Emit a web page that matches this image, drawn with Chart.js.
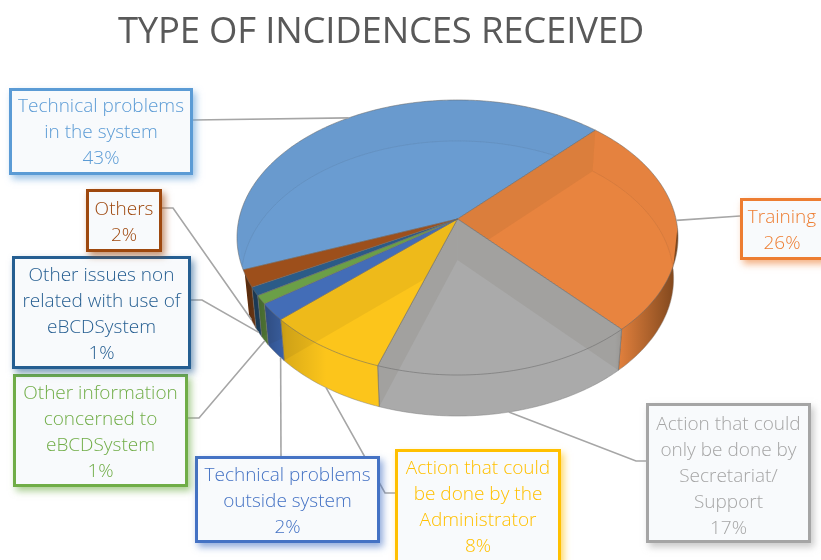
<!DOCTYPE html>
<html>
<head>
<meta charset="utf-8">
<script src="https://cdn.jsdelivr.net/npm/chart.js@4/dist/chart.umd.min.js"></script>
<style>
  html, body { margin: 0; padding: 0; background: #fff; overflow: hidden; }
  #stage { position: relative; width: 821px; height: 560px; overflow: hidden; font-family: "Open Sans", sans-serif; }
  #pie { position: absolute; left: 0; top: 0; }
  #title { position: absolute; left: 0; width: 762px; top: 5px; text-align: center; font-size: 36.5px; line-height: 48px; color: #595959; letter-spacing: -0.2px; }
  .callout { position: absolute; box-sizing: border-box; border: 3px solid; text-align: center; font-size: 19px; font-weight: 300; line-height: 26px; display: flex; flex-direction: column; justify-content: center; background: #f8fafc; }
</style>
</head>
<body>
<div id="stage">
  <canvas id="pie" width="821" height="560"></canvas>
  <div id="title">TYPE OF INCIDENCES RECEIVED</div>
</div>
<script>
const categories = [
  'Technical problems in the system',
  'Training',
  'Action that could only be done by Secretariat/ Support',
  'Action that could be done by the Administrator',
  'Technical problems outside system',
  'Other information concerned to eBCDSystem',
  'Other issues non related with use of eBCDSystem',
  'Others'
];
const percents = [43, 26, 17, 8, 2, 1, 1, 2];
const labelLines = [
  ['Technical problems', 'in the system'],
  ['Training'],
  ['Action that could', 'only be done by', 'Secretariat/', 'Support'],
  ['Action that could', 'be done by the', 'Administrator'],
  ['Technical problems', 'outside system'],
  ['Other information', 'concerned to', 'eBCDSystem'],
  ['Other issues non', 'related with use of', 'eBCDSystem'],
  ['Others']
];
const sliceColors = ['#6a9cd1', '#e8843f', '#aaaaaa', '#fcc51b', '#4472c4', '#6fa84b', '#2a5e90', '#a5521c'];
const edgeColors = ['#5b9bd5', '#ed7d31', '#a5a5a5', '#ffc000', '#4472c4', '#70ad47', '#255e91', '#9e480e'];

// left, top, width, height of every label box
const boxes = [
  [9, 88, 184, 87],
  [740, 198, 84, 62],
  [646, 403, 165, 140],
  [395, 449, 166, 114],
  [195, 456, 185, 87],
  [13, 374, 175, 113],
  [12, 256, 179, 113],
  [86, 189, 76, 63]
];
const textShift = [-1, 0, 2, 0, 0, 0, 0, 0];
// where along its slice a leader starts, then the rest of the leader up to the box
const leaderAt = [0.5, 0.5, 0.5, 0.5, 0.2, 0.5, 0.5, 0.5];
const leaderPath = [
  [[193, 120]],
  [[740, 216]],
  [[636, 461], [646, 461]],
  [[385, 493], [395, 493]],
  [[281, 456]],
  [[199, 418], [188, 418]],
  [[202, 300], [191, 300]],
  [[173, 208], [162, 208]]
];

const squash = 0.618;
const perspective = 0.1345;
const depth = 41;
const lowerWidth = 0.98;

function rimPoint(arc, angle, drop) {
  const w = 1 - perspective * Math.sin(angle);
  const dx = arc.outerRadius * Math.cos(angle) / w;
  return {
    x: arc.x + (drop ? dx * lowerWidth : dx),
    y: arc.y + arc.outerRadius * squash * Math.sin(angle) / w + (drop || 0)
  };
}

function rimAngles(from, to) {
  const list = [];
  const steps = Math.max(2, Math.ceil((to - from) / 0.015));
  for (let i = 0; i <= steps; i++) list.push(from + (to - from) * i / steps);
  return list;
}

// the big slice hides its own side on the left, so the side starts lower there
function onFront(a) {
  return Math.sin(a) > (Math.cos(a) < 0 ? 0.38 : 0.05);
}

function trace(ctx, pts) {
  pts.forEach((p, i) => i ? ctx.lineTo(p.x, p.y) : ctx.moveTo(p.x, p.y));
}

function sectorPath(ctx, arc, drop) {
  const pts = rimAngles(arc.startAngle, arc.endAngle).map(a => rimPoint(arc, a, drop));
  ctx.moveTo(arc.x, arc.y + drop);
  pts.forEach(p => ctx.lineTo(p.x, p.y));
  ctx.closePath();
}

function stripPath(ctx, arc, angles) {
  const top = angles.map(a => rimPoint(arc, a, 0));
  const bottom = angles.map(a => rimPoint(arc, a, depth)).reverse();
  trace(ctx, top.concat(bottom));
  ctx.closePath();
}

function wallPath(ctx, arc, angle) {
  const rim = rimPoint(arc, angle, 0);
  const low = rimPoint(arc, angle, depth);
  ctx.moveTo(arc.x, arc.y);
  ctx.lineTo(rim.x, rim.y);
  ctx.lineTo(low.x, low.y);
  ctx.lineTo(arc.x, arc.y + depth);
  ctx.closePath();
}

const pie3d = {
  id: 'pie3d',
  beforeDatasetsDraw(chart) {
    const ctx = chart.ctx;
    const arcs = chart.getDatasetMeta(0).data;
    const left = arcs[0].x - arcs[0].outerRadius;
    const right = arcs[0].x + arcs[0].outerRadius;
    const sideShade = ctx.createLinearGradient(left, 0, right, 0);
    sideShade.addColorStop(0, 'rgba(0,0,0,0.5)');
    sideShade.addColorStop(0.11, 'rgba(0,0,0,0.12)');
    sideShade.addColorStop(0.2, 'rgba(0,0,0,0)');
    sideShade.addColorStop(0.86, 'rgba(40,20,0,0)');
    sideShade.addColorStop(1, 'rgba(40,20,0,0.55)');

    arcs.forEach(arc => {
      const all = rimAngles(arc.startAngle, arc.endAngle);
      const front = all.filter(onFront);
      ctx.save();
      ctx.beginPath();
      sectorPath(ctx, arc, 0);
      if (front.length > 1) stripPath(ctx, arc, front);
      ctx.clip('nonzero');

      ctx.fillStyle = arc.options.backgroundColor;
      ctx.fillRect(0, 0, chart.width, chart.height);

      // back of the curved side, seen through the top
      const back = all.filter(a => Math.sin(a) <= 0.05);
      if (back.length > 1) {
        ctx.beginPath();
        stripPath(ctx, arc, back);
        ctx.fillStyle = 'rgba(60,50,40,0.015)';
        ctx.fill();
        ctx.beginPath();
        trace(ctx, back.map(a => rimPoint(arc, a, depth)));
        ctx.strokeStyle = 'rgba(70,70,70,0.09)';
        ctx.lineWidth = 1;
        ctx.stroke();
      }
      // radial walls, seen through the top
      [arc.startAngle, arc.endAngle].forEach(a => {
        ctx.beginPath();
        wallPath(ctx, arc, a);
        ctx.fillStyle = 'rgba(70,55,30,0.075)';
        ctx.fill();
      });
      if (front.length > 1) {
        ctx.beginPath();
        stripPath(ctx, arc, front);
        ctx.fillStyle = sideShade;
        ctx.fill();
      }
      ctx.restore();

      ctx.strokeStyle = 'rgba(105,105,105,0.55)';
      ctx.lineWidth = 1;
      ctx.beginPath();
      sectorPath(ctx, arc, 0);
      ctx.stroke();
      [arc.startAngle, arc.endAngle].forEach(a => {
        if (onFront(a)) {
          const rim = rimPoint(arc, a, 0);
          const low = rimPoint(arc, a, depth);
          ctx.beginPath();
          ctx.moveTo(rim.x, rim.y);
          ctx.lineTo(low.x, low.y);
          ctx.stroke();
        }
      });
      if (front.length > 1) {
        ctx.beginPath();
        trace(ctx, front.map(a => rimPoint(arc, a, depth)));
        ctx.strokeStyle = 'rgba(130,130,130,0.5)';
        ctx.stroke();
      }
    });
    return false;
  },
  // returning false above also skips afterDatasetsDraw, so the leaders go here
  afterDraw(chart) {
    const ctx = chart.ctx;
    const arcs = chart.getDatasetMeta(0).data;
    ctx.save();
    ctx.strokeStyle = '#a6a6a6';
    ctx.lineWidth = 1.6;
    arcs.forEach((arc, i) => {
      const angle = arc.startAngle + (arc.endAngle - arc.startAngle) * leaderAt[i];
      const start = rimPoint(arc, angle, Math.sin(angle) > 0.05 ? depth : 0);
      ctx.beginPath();
      ctx.moveTo(start.x, start.y);
      leaderPath[i].forEach(p => ctx.lineTo(p[0], p[1]));
      ctx.stroke();
    });
    ctx.restore();
  }
};

new Chart(document.getElementById('pie'), {
  type: 'pie',
  data: {
    labels: categories,
    datasets: [{ data: percents, backgroundColor: sliceColors, borderWidth: 0 }]
  },
  options: {
    responsive: false,
    animation: false,
    rotation: -111,
    layout: { padding: { left: 239, right: 145, top: 0.5, bottom: 122.5 } },
    plugins: { legend: { display: false }, title: { display: false }, tooltip: { enabled: false } }
  },
  plugins: [pie3d]
});

const stage = document.getElementById('stage');
categories.forEach((name, i) => {
  const box = document.createElement('div');
  box.className = 'callout';
  const [x, y, w, h] = boxes[i];
  box.style.left = x + 'px';
  box.style.top = y + 'px';
  box.style.width = w + 'px';
  box.style.height = h + 'px';
  box.style.borderColor = edgeColors[i];
  box.style.color = edgeColors[i];
  box.style.boxShadow = '3px 4px 7px ' + edgeColors[i] + '99';
  labelLines[i].concat(percents[i] + '%').forEach(line => {
    const row = document.createElement('div');
    row.textContent = line;
    row.style.transform = 'translateY(' + textShift[i] + 'px)';
    box.appendChild(row);
  });
  stage.appendChild(box);
});
</script>
</body>
</html>
